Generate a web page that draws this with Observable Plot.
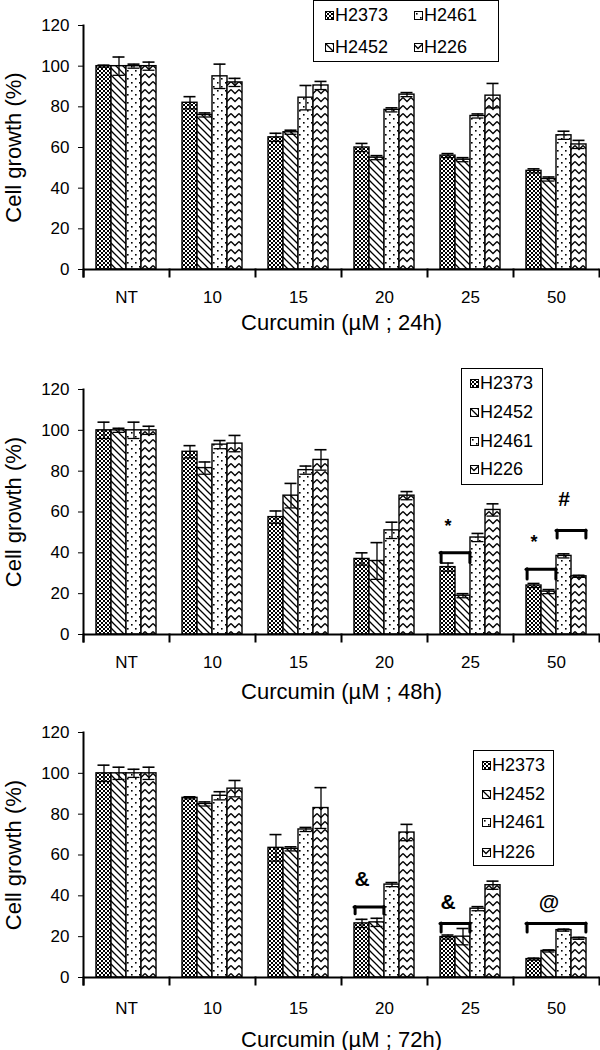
<!DOCTYPE html>
<html><head><meta charset="utf-8">
<script src="https://cdn.jsdelivr.net/npm/d3@7"></script>
<script src="https://cdn.jsdelivr.net/npm/@observablehq/plot@0.6"></script>
<style>
body{margin:0;background:#fff;font-family:"Liberation Sans",Arial,sans-serif;}
#wrap{position:relative;width:600px;height:1050px;overflow:hidden;}
.panel{position:absolute;left:0;width:600px;height:350px;}
.legend{position:absolute;border:1.5px solid #000;background:#fff;box-sizing:border-box;}
.item{position:absolute;height:20px;display:flex;align-items:center;font-size:18px;color:#000;white-space:nowrap;}
.item svg{margin-right:1px;}
</style></head><body>
<svg width="0" height="0" style="position:absolute">
<defs>
<pattern id="pat0" width="4" height="4" patternUnits="userSpaceOnUse">
  <rect width="4" height="4" fill="#fff"/>
  <rect width="2" height="2" fill="#000"/><rect x="2" y="2" width="2" height="2" fill="#000"/>
</pattern>
<pattern id="pat1" width="7" height="7" patternUnits="userSpaceOnUse">
  <rect width="7" height="7" fill="#fff"/>
  <path d="M0,0L7,7M-1,6L1,8M6,-1L8,1" stroke="#000" stroke-width="1.3"/>
</pattern>
<pattern id="pat2" width="8" height="8" patternUnits="userSpaceOnUse">
  <rect width="8" height="8" fill="#fff"/>
  <rect x="2" y="2" width="1.6" height="1.6" fill="#000"/><rect x="6" y="6" width="1.6" height="1.6" fill="#000"/>
</pattern>
<pattern id="pat3" width="8" height="8" patternUnits="userSpaceOnUse">
  <rect width="8" height="8" fill="#fff"/>
  <path d="M0,1.5L4,5.5L8,1.5" fill="none" stroke="#000" stroke-width="1.3"/>
</pattern>
</defs>
</svg>
<div id="wrap"></div>
<script>
// ---------- data ----------
const concentrations = ["NT", "10", "15", "20", "25", "50"];
const cellLines = ["H2373", "H2452", "H2461", "H226"];
const yTicks = [0, 20, 40, 60, 80, 100, 120];

// 24 h  (rows follow cellLines, columns follow concentrations)
const mean24 = [
  [100, 82, 65, 60, 56, 48.5],
  [100, 76, 67.5, 55, 54, 44.5],
  [100, 95, 84.5, 78.5, 75.5, 66],
  [100, 92, 90.5, 86, 85.5, 61.5]
];
const err24 = [
  [0.5, 3, 2, 2, 1, 1],
  [4.5, 1, 1, 1, 1, 1],
  [1, 6, 6, 1, 1, 2],
  [2, 2, 2, 1, 6, 2]
];
// 48 h
const mean48 = [
  [100, 89.5, 57.5, 37, 33, 24],
  [100, 81.5, 68, 36, 19, 21],
  [100, 93, 80.5, 51, 47.5, 38.5],
  [100, 93.5, 85.5, 68, 61, 28.5]
];
const err48 = [
  [4, 3, 3, 3, 2, 1],
  [1, 3, 6, 9, 1, 1],
  [4, 2, 2, 4, 2, 1],
  [2, 4, 5, 2, 3, 0.5]
];
// 72 h
const mean72 = [
  [100, 88, 63.5, 26.5, 19.8, 9],
  [100, 85, 63, 27, 20, 13],
  [100, 89, 72.5, 45.5, 33.7, 23.2],
  [100, 92.5, 83, 71, 45.2, 19.2]
];
const err72 = [
  [4, 0.5, 6.5, 2, 1, 0.5],
  [3, 1, 1, 2, 4, 0.5],
  [2, 2, 1, 1, 1, 0.5],
  [3, 4, 10, 4, 2, 0.5]
];

// significance brackets: concentration, first and last cell line, bracket top / foot, symbol, symbol height
const brackets48 = [
  {conc: "25", from: "H2373", to: "H2452", top: 40, foot: 35, sym: "*", at: "H2373", symY: 53},
  {conc: "50", from: "H2373", to: "H2452", top: 32, foot: 27, sym: "*", at: "H2373", symY: 45},
  {conc: "50", from: "H2461", to: "H226", top: 51, foot: 47, sym: "#", at: "H2461", symY: 66}
];
const brackets72 = [
  {conc: "20", from: "H2373", to: "H2452", top: 34.5, foot: 31, sym: "&", at: "H2373", symY: 48},
  {conc: "25", from: "H2373", to: "H2452", top: 26.5, foot: 22, sym: "&", at: "H2373", symY: 37},
  {conc: "50", from: "H2373", to: "H226", top: 26.5, foot: 22, sym: "@", at: "H2452", symY: 37}
];

const titles = ["Curcumin (\u00b5M ; 24h)", "Curcumin (\u00b5M ; 48h)", "Curcumin (\u00b5M ; 72h)"];

// ---------- drawing ----------
const W = 600, H = 350, ML = 82, MR = 1;
const padOuter = 0.73;
const bandW = (W - ML - MR) / concentrations.length / (cellLines.length + 2 * padOuter);

function panel(means, errs, brackets, title, m) {
  const rows = [];
  cellLines.forEach((s, si) => concentrations.forEach((c, ci) =>
    rows.push({conc: c, series: s, value: means[si][ci], err: errs[si][ci]})));
  const innerH = H - m.top - m.bottom;
  const marks = [
    ...cellLines.map((s, i) => Plot.barY(rows.filter(d => d.series === s), {
      fx: "conc", x: "series", y: "value", fill: `url(#pat${i})`, stroke: "#000", strokeWidth: 1.4
    })),
    Plot.ruleX(rows, {fx: "conc", x: "series", y1: d => d.value - d.err, y2: d => d.value + d.err, stroke: "#000", strokeWidth: 1.3}),
    Plot.tickY(rows, {fx: "conc", x: "series", y: d => d.value + d.err, insetLeft: 1.5, insetRight: 1.5, stroke: "#000", strokeWidth: 1.6}),
    Plot.tickY(rows, {fx: "conc", x: "series", y: d => d.value - d.err, insetLeft: 1.5, insetRight: 1.5, stroke: "#000", strokeWidth: 1.3}),
    Plot.ruleY([0], {stroke: "#000", strokeWidth: 2}),
    Plot.frame({anchor: "left", facetAnchor: "left", insetBottom: -7, stroke: "#000", strokeWidth: 2}),
    Plot.frame({anchor: "left", insetTop: innerH, insetBottom: -7, stroke: "#000", strokeWidth: 2}),
    Plot.frame({anchor: "right", facetAnchor: "right", insetTop: innerH, insetBottom: -7, stroke: "#000", strokeWidth: 2}),
    Plot.axisY({ticks: yTicks, tickSize: 5, tickPadding: 9, fontSize: 17, label: null}),
    Plot.axisY({ticks: yTicks, tickSize: 0, tickFormat: () => "", fontSize: 22, label: "Cell growth (%)",
      labelAnchor: "center", labelOffset: 78, labelArrow: "none"}),
    Plot.axisFx({anchor: "bottom", tickSize: 0, tickPadding: m.tickPad, fontSize: 17, label: null}),
    Plot.axisFx({anchor: "bottom", tickSize: 0, tickFormat: () => "", fontSize: 22, label: title,
      labelAnchor: "center", labelOffset: m.labelOff, labelArrow: "none"})
  ];
  if (brackets) {
    marks.push(
      Plot.ruleY(brackets, {fx: "conc", x1: "from", x2: "to", y: "top", stroke: "#000", strokeWidth: 3, strokeLinecap: "round"}),
      Plot.ruleX(brackets, {fx: "conc", x: "from", y1: "foot", y2: "top", dx: -bandW / 2 + 1, stroke: "#000", strokeWidth: 3, strokeLinecap: "round"}),
      Plot.ruleX(brackets, {fx: "conc", x: "to", y1: "foot", y2: "top", dx: bandW / 2 - 1, stroke: "#000", strokeWidth: 3, strokeLinecap: "round"}),
      Plot.text(brackets.filter(d => d.sym === "*"), {fx: "conc", x: "at", y: "symY", text: "sym", fontSize: 18, fontWeight: "bold", fill: "#000"}),
      Plot.text(brackets.filter(d => d.sym !== "*"), {fx: "conc", x: "at", y: "symY", text: "sym", fontSize: 21, fontWeight: "bold", fill: "#000"})
    );
  }
  return Plot.plot({
    width: W, height: H,
    marginLeft: ML, marginRight: MR, marginTop: m.top, marginBottom: m.bottom,
    style: {fontFamily: '"Liberation Sans", Arial, sans-serif', color: "#000", background: "none", overflow: "visible"},
    fx: {domain: concentrations, padding: 0},
    x: {domain: cellLines, paddingInner: 0, paddingOuter: padOuter, axis: null},
    y: {domain: [0, 120]},
    marks
  });
}

const wrap = document.getElementById("wrap");
const panelMargins = [
  {top: 25, bottom: 81, tickPad: 21, labelOff: 60},
  {top: 39, bottom: 66, tickPad: 21, labelOff: 64},
  {top: 32, bottom: 73, tickPad: 24, labelOff: 69}
];
const data = [[mean24, err24, null], [mean48, err48, brackets48], [mean72, err72, brackets72]];
data.forEach(([mn, er, br], i) => {
  const d = document.createElement("div");
  d.className = "panel";
  d.style.top = (i * H) + "px";
  d.appendChild(panel(mn, er, br, titles[i], panelMargins[i]));
  wrap.appendChild(d);
});

// ---------- legends (HTML overlays) ----------
function legend(box, items) {
  const b = document.createElement("div");
  b.className = "legend";
  Object.assign(b.style, {left: box[0] + "px", top: box[1] + "px", width: box[2] + "px", height: box[3] + "px"});
  wrap.appendChild(b);
  items.forEach(([name, x, y]) => {
    const i = cellLines.indexOf(name);
    const it = document.createElement("div");
    it.className = "item";
    it.style.left = x + "px";
    it.style.top = (y - 10) + "px";
    it.innerHTML = `<svg width="9" height="9"><rect x="0.5" y="0.5" width="8" height="8" fill="url(#pat${i})" stroke="#000"/></svg>${name}`;
    wrap.appendChild(it);
  });
}
legend([313, 0, 186, 62], [["H2373", 325, 15], ["H2461", 414, 15], ["H2452", 325, 47], ["H226", 414, 47]]);
legend([461, 368, 82, 117], [["H2373", 470, 383], ["H2452", 470, 412], ["H2461", 470, 441], ["H226", 470, 469]]);
legend([473, 750, 81, 116], [["H2373", 482, 765], ["H2452", 482, 794], ["H2461", 482, 822], ["H226", 482, 852]]);
</script>
</body></html>
